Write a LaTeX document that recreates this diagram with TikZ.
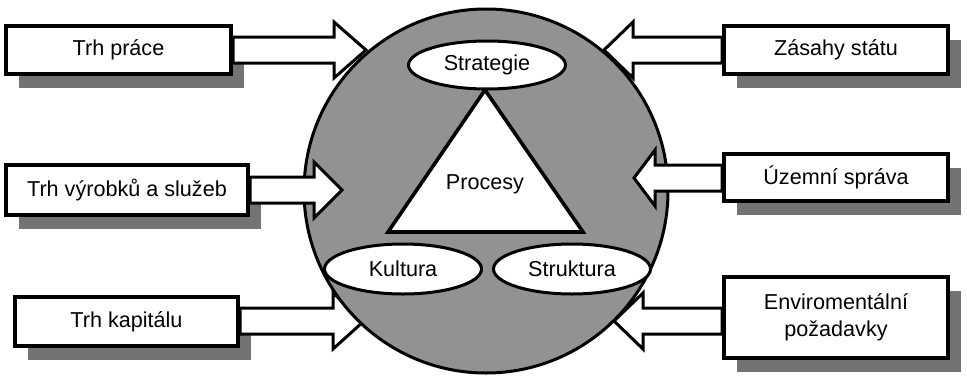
\documentclass[tikz,border=0pt]{standalone}
\usepackage{fontspec}
\setmainfont{Liberation Sans}
\usepackage{xcolor}
\usetikzlibrary{shapes.geometric,shadows,calc}

\definecolor{discgray}{RGB}{146,146,146}
\definecolor{shadowgray}{RGB}{115,115,115}

\tikzset{
  infobox/.style={draw, line width=2pt, fill=white, minimum width=112pt,
    minimum height=24pt, inner sep=0pt, align=center,
    drop shadow={shadow xshift=6.5pt, shadow yshift=-7pt, fill=shadowgray, opacity=1}},
  blockarr/.style={draw, line width=1.5pt, fill=white, line join=miter},
  oval/.style={ellipse, draw, line width=1.5pt, fill=white, inner sep=0pt,
    minimum width=78.5pt, minimum height=24pt}
}

% block arrow: box anchor, tip, x offset of head base from tip
\newcommand{\bigarrow}[3]{%
  \coordinate (from) at (#1 |- #2);
  \draw[blockarr] ([shift={(0,-13)}]from) -- ([shift={(#3,-13)}]#2)
    -- ([shift={(#3,-28)}]#2) -- (#2) -- ([shift={(#3,28)}]#2)
    -- ([shift={(#3,13)}]#2) -- ([shift={(0,13)}]from) -- cycle;
}

\begin{document}
\begin{tikzpicture}[x=0.5pt, y=-0.5pt, font=\fontsize{10.8}{13.5}\selectfont]
    \useasboundingbox (0,0) rectangle (967,375);

    % Outer boxes, left
    \node[infobox, minimum width=112.5pt] (prace) at (118.5,50) {Trh práce};
    \node[infobox, minimum width=121pt, minimum height=25pt] (vyrobky) at (127,190) {Trh výrobků a služeb};
    \node[infobox, minimum width=111.5pt, minimum height=24.5pt] (kapital) at (126.5,321.5) {Trh kapitálu};

    % Outer boxes, right
    \node[infobox] (zasahy) at (836,50) {Zásahy státu};
    \node[infobox, minimum height=23.5pt] (sprava) at (836,177.5) {Územní správa};
    \node[infobox, minimum height=40.5pt] (env) at (836,317.5) {Enviromentální\\požadavky};

    % Arrow tips
    \coordinate (tipA) at (366,50);
    \coordinate (tipB) at (342,190);
    \coordinate (tipC) at (364,321);
    \coordinate (tipD) at (604,50);
    \coordinate (tipE) at (634,178);
    \coordinate (tipF) at (614,321);

    % Arrows hidden by the disc
    \bigarrow{prace.east}{tipA}{-32}
    \bigarrow{kapital.east}{tipC}{-31}
    \bigarrow{zasahy.west}{tipD}{29}
    \bigarrow{env.west}{tipF}{29}

    % Disc
    \draw[line width=1.5pt, fill=discgray] (486,191) circle (91pt);
    \node[inner sep=0pt, minimum size=182pt, circle] (disc) at (486,191) {};

    % Arrows over the disc
    \bigarrow{vyrobky.east}{tipB}{-28}
    \bigarrow{sprava.west}{tipE}{21}

    % Triangle
    \draw[line width=1.8pt, fill=white, line join=miter] (485,90) -- (583,232) -- (388,232) -- cycle;
    \node (procesy) at (485,184) {Procesy};

    % Ovals
    \node[oval] (strategie) at (487,65) {Strategie};
    \node[oval, minimum height=25pt] (kultura) at (403,269) {Kultura};
    \node[oval, minimum height=25pt] (struktura) at (572,269) {Struktura};

\end{tikzpicture}
\end{document}
